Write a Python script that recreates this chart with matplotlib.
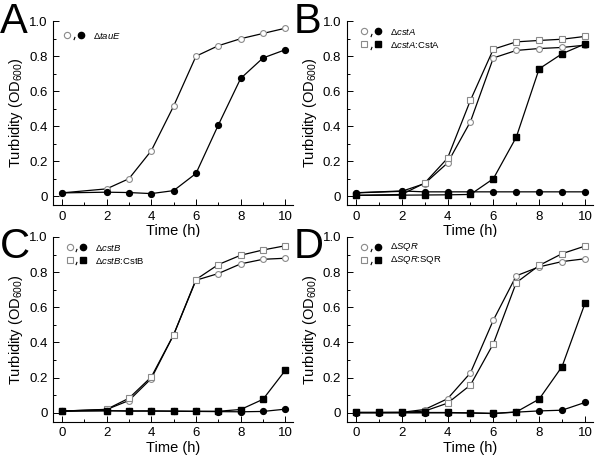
import matplotlib
matplotlib.use("Agg")
import matplotlib.pyplot as plt
from matplotlib.ticker import MultipleLocator

plt.rcParams['font.family'] = ['Liberation Sans', 'DejaVu Sans']
plt.rcParams['mathtext.fontset'] = 'custom'
plt.rcParams['mathtext.rm'] = 'Liberation Sans'
plt.rcParams['mathtext.it'] = 'Liberation Sans:italic'

# time points (h)
t_abc = [0, 2, 3, 4, 5, 6, 7, 8, 9, 10]
t_d = [0, 1, 2, 3, 4, 5, 6, 7, 8, 9, 10]

# panel A: delta tauE (open = condition 1, filled = condition 2)
a_open = [0.019, 0.042, 0.10, 0.26, 0.515, 0.80, 0.86, 0.90, 0.93, 0.96]
a_fill = [0.019, 0.023, 0.021, 0.015, 0.032, 0.13, 0.407, 0.673, 0.79, 0.837]

# panel B: delta cstA and complemented
b_circ_open = [0.019, 0.028, 0.072, 0.19, 0.426, 0.79, 0.833, 0.844, 0.85, 0.863]
b_circ_fill = [0.02, 0.03, 0.025, 0.025, 0.025, 0.025, 0.025, 0.025, 0.025, 0.025]
b_sq_open = [0.005, 0.01, 0.075, 0.217, 0.548, 0.84, 0.882, 0.89, 0.897, 0.913]
b_sq_fill = [0.005, 0.006, 0.007, 0.008, 0.01, 0.10, 0.337, 0.728, 0.814, 0.87]

# panel C: delta cstB and complemented
c_circ_open = [0.01, 0.019, 0.07, 0.195, 0.444, 0.754, 0.792, 0.847, 0.873, 0.879]
c_circ_fill = [0.01, 0.012, 0.01, 0.01, 0.009, 0.008, 0.007, 0.006, 0.008, 0.021]
c_sq_open = [0.01, 0.02, 0.083, 0.204, 0.444, 0.758, 0.843, 0.896, 0.926, 0.95]
c_sq_fill = [0.01, 0.012, 0.011, 0.011, 0.01, 0.009, 0.009, 0.019, 0.077, 0.242]

# panel D: delta SQR and complemented
d_circ_open = [0.002, 0.002, 0.003, 0.019, 0.08, 0.227, 0.527, 0.779, 0.83, 0.86, 0.876]
d_circ_fill = [0.0, 0.0, 0.0, 0.0, 0.0, -0.001, -0.004, 0.004, 0.011, 0.015, 0.059]
d_sq_open = [0.002, 0.002, 0.002, 0.01, 0.055, 0.158, 0.393, 0.74, 0.838, 0.905, 0.948]
d_sq_fill = [0.002, 0.002, 0.002, 0.002, 0.002, 0.0, -0.003, 0.005, 0.078, 0.263, 0.622]

GRAY = '#8a8a8a'

fig = plt.figure(figsize=(6.02, 4.61), dpi=100)


def style_axes(ax):
    ax.set_xlim(-0.4, 10.35)
    ax.set_ylim(-0.051, 1.0)
    for s in ['top', 'right']:
        ax.spines[s].set_visible(False)
    for s in ['left', 'bottom']:
        ax.spines[s].set_linewidth(0.8)
    ax.xaxis.set_major_locator(MultipleLocator(2))
    ax.xaxis.set_minor_locator(MultipleLocator(1))
    ax.yaxis.set_major_locator(MultipleLocator(0.2))
    ax.yaxis.set_minor_locator(MultipleLocator(0.1))
    ax.tick_params(which='both', direction='in', labelsize=9.5, width=0.7)
    ax.tick_params(which='major', length=4, pad=4)
    ax.tick_params(which='minor', length=2)
    ax.set_yticks([0, 0.2, 0.4, 0.6, 0.8, 1.0])
    ax.set_yticklabels(['0', '0.2', '0.4', '0.6', '0.8', '1.0'])
    ax.set_xlabel('Time (h)', fontsize=10.5, labelpad=1)
    ax.set_ylabel('Turbidity (OD$_{600}$)', fontsize=10.5, labelpad=3)


def series(ax, t, y, marker, filled):
    if filled:
        ax.plot(t, y, color='black', lw=0.9, marker=marker, ms=4.2,
                mfc='black', mec='black', zorder=3)
    else:
        ax.plot(t, y, color='black', lw=0.9, marker=marker, ms=4.2,
                mfc='white', mec=GRAY, mew=0.8, zorder=3)


def legend_row(ax, y, marker, label, x0=0.07):
    tr = ax.transAxes
    ax.plot([x0], [y], transform=tr, marker=marker, ms=4.5, mfc='white',
            mec=GRAY, mew=0.8, ls='none', clip_on=False)
    ax.plot([x0 + 0.027], [y - 0.018], transform=tr, marker=(2, 0, -20),
            ms=2.5, mec='black', mew=0.8, ls='none', clip_on=False)
    ax.plot([x0 + 0.055], [y], transform=tr, marker=marker, ms=4.5,
            mfc='black', mec='black', ls='none', clip_on=False)
    ax.text(x0 + 0.105, y, label, transform=tr, fontsize=6.8, va='center')


boxes = {
    'A': [0.088, 0.555, 0.399, 0.399],
    'B': [0.576, 0.555, 0.409, 0.399],
    'C': [0.088, 0.085, 0.399, 0.401],
    'D': [0.576, 0.085, 0.409, 0.401],
}

axA = fig.add_axes(boxes['A'])
style_axes(axA)
series(axA, t_abc, a_open, 'o', False)
series(axA, t_abc, a_fill, 'o', True)
legend_row(axA, 0.925, 'o', r'$\Delta\mathit{tauE}$', x0=0.06)

axB = fig.add_axes(boxes['B'])
style_axes(axB)
series(axB, t_abc, b_circ_open, 'o', False)
series(axB, t_abc, b_sq_open, 's', False)
series(axB, t_abc, b_circ_fill, 'o', True)
series(axB, t_abc, b_sq_fill, 's', True)
legend_row(axB, 0.945, 'o', r'$\Delta\mathit{cstA}$')
legend_row(axB, 0.875, 's', r'$\Delta\mathit{cstA}$:CstA')

axC = fig.add_axes(boxes['C'])
style_axes(axC)
series(axC, t_abc, c_circ_open, 'o', False)
series(axC, t_abc, c_sq_open, 's', False)
series(axC, t_abc, c_circ_fill, 'o', True)
series(axC, t_abc, c_sq_fill, 's', True)
legend_row(axC, 0.945, 'o', r'$\Delta\mathit{cstB}$')
legend_row(axC, 0.875, 's', r'$\Delta\mathit{cstB}$:CstB')

axD = fig.add_axes(boxes['D'])
style_axes(axD)
series(axD, t_d, d_circ_open, 'o', False)
series(axD, t_d, d_sq_open, 's', False)
series(axD, t_d, d_circ_fill, 'o', True)
series(axD, t_d, d_sq_fill, 's', True)
legend_row(axD, 0.945, 'o', r'$\Delta\mathit{SQR}$')
legend_row(axD, 0.875, 's', r'$\Delta\mathit{SQR}$:SQR')

# panel letters
fig.text(0.0, 0.995, 'A', fontsize=30, va='top', ha='left')
fig.text(0.488, 0.995, 'B', fontsize=30, va='top', ha='left')
fig.text(0.0, 0.508, 'C', fontsize=30, va='top', ha='left')
fig.text(0.488, 0.508, 'D', fontsize=30, va='top', ha='left')

fig.savefig('out.png', dpi=100)
